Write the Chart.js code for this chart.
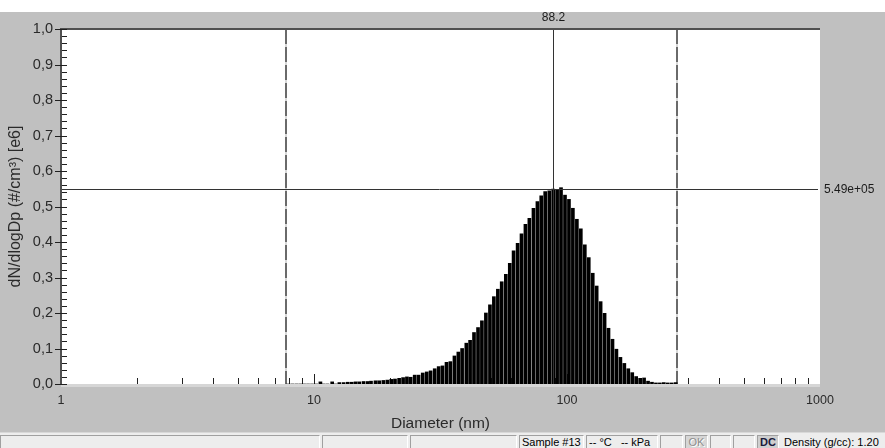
<!DOCTYPE html>
<html>
<head>
<meta charset="utf-8">
<title>Size distribution</title>
<script src="https://cdn.jsdelivr.net/npm/chart.js@4.4.1/dist/chart.umd.min.js"></script>
<style>
  html, body { margin: 0; padding: 0; width: 885px; height: 448px; overflow: hidden; background: #c0c0c0; }
  #plot { position: absolute; left: 0; top: 0; width: 885px; height: 433px; }
  #status { position: absolute; left: 0; top: 432px; width: 885px; height: 16px; background: #ededed; border-top: 1px solid #d8d8d8; box-sizing: border-box; }
  .pane { position: absolute; top: 2px; height: 15px; box-sizing: border-box; border: 1px solid; border-color: #a0a0a0 #ffffff #ffffff #a0a0a0;
          font: 11px "Liberation Sans", Arial, sans-serif; line-height: 12px; padding-left: 2px; white-space: nowrap; color: #000; overflow: hidden; }
  .pane.off { background: #d6d6d6; color: #8c8c8c; text-shadow: 1px 1px 0 #fff; text-align: center; padding-left: 0; }
  .pane.dc { background: #cfcfcf; font-weight: bold; color: #1a1a3a; text-align: center; padding-left: 0; }
  .pane.plain { border-color: transparent; }
</style>
</head>
<body>
<canvas id="plot" width="885" height="433"></canvas>
<div id="status">
  <div class="pane" style="left:0;width:320px"></div>
  <div class="pane" style="left:322px;width:86px"></div>
  <div class="pane" style="left:410px;width:107px"></div>
  <div class="pane" style="left:519px;width:65px">Sample #13</div>
  <div class="pane" style="left:586px;width:72px">-- °C &nbsp; -- kPa</div>
  <div class="pane" style="left:660px;width:23px"></div>
  <div class="pane off" style="left:685px;width:23px">OK</div>
  <div class="pane" style="left:710px;width:21px"></div>
  <div class="pane" style="left:733px;width:22px"></div>
  <div class="pane dc" style="left:757px;width:22px">DC</div>
  <div class="pane plain" style="left:781px;width:104px">Density (g/cc): 1.20</div>
</div>
<script>
// Channel midpoint diameters (nm), 64 channels per decade
const diameters = [
  7.91, 8.20, 8.51, 8.82, 9.14, 9.47, 9.82,
  10.2, 10.6, 10.9, 11.3, 11.8, 12.2, 12.6, 13.1, 13.6, 14.1, 14.6, 15.1, 15.7, 16.3, 16.8, 17.5,
  18.1, 18.8, 19.5, 20.2, 20.9, 21.7, 22.5, 23.3, 24.1, 25.0, 25.9, 26.9, 27.9, 28.9, 30.0, 31.1,
  32.2, 33.4, 34.6, 35.9, 37.2, 38.5, 40.0, 41.4, 42.9, 44.5, 46.1, 47.8, 49.6, 51.4, 53.3, 55.2,
  57.3, 59.4, 61.5, 63.8, 66.1, 68.5, 71.0, 73.7, 76.4, 79.1, 82.0, 85.1, 88.2, 91.4, 94.7, 98.2,
  101.8, 105.5, 109.4, 113.4, 117.6, 121.9, 126.4, 131.0, 135.8, 140.8, 145.9, 151.3, 156.8, 162.6, 168.5, 174.7,
  181.1, 187.7, 194.6, 201.7, 209.1, 216.7, 224.7, 232.9, 241.4, 250.3, 259.5, 269.0
];

// dN/dlogDp in units of 1e6 #/cm³
const concentration = [
  0, 0, 0, 0, 0, 0, 0,
  0, 0.006, 0, 0, 0.006, 0, 0.004, 0.004, 0.005, 0.005, 0.006, 0.006, 0.007, 0.007, 0.008, 0.009,
  0.009, 0.010, 0.011, 0.013, 0.014, 0.016, 0.018, 0.020, 0.019, 0.025, 0.025, 0.031, 0.034, 0.037, 0.043, 0.049,
  0.051, 0.061, 0.063, 0.079, 0.090, 0.100, 0.115, 0.123, 0.145, 0.159, 0.178, 0.200, 0.223, 0.246, 0.267, 0.288,
  0.309, 0.340, 0.375, 0.396, 0.423, 0.450, 0.467, 0.495, 0.514, 0.530, 0.542, 0.544, 0.549, 0.548, 0.553, 0.532,
  0.520, 0.495, 0.464, 0.437, 0.392, 0.356, 0.312, 0.276, 0.232, 0.199, 0.157, 0.126, 0.098, 0.075, 0.058, 0.043,
  0.032, 0.021, 0.016, 0.017, 0.008, 0.005, 0.003, 0.003, 0.004, 0.003, 0.003, 0.004
];

const xTickValues = [1, 10, 100, 1000];
const xTickLabels = ['1', '10', '100', '1000'];
const yTickLabels = ['0,0', '0,1', '0,2', '0,3', '0,4', '0,5', '0,6', '0,7', '0,8', '0,9', '1,0'];

// Scan limits (nm) and cursor position
const scanLimits = [7.77, 272];
const cursorDiameter = 88.2;

const cursorIndex = diameters.indexOf(cursorDiameter);
const cursorValue = concentration[cursorIndex];

function sci(v) {
  const [m, e] = v.toExponential(2).split('e');
  const n = parseInt(e, 10);
  return m + 'e' + (n < 0 ? '-' : '+') + String(Math.abs(n)).padStart(2, '0');
}

const LABEL_FONT = '"Liberation Sans", Arial, sans-serif';

const frame = {
  id: 'frame',
  beforeDraw(chart) {
    const { ctx, chartArea: a } = chart;
    ctx.save();
    ctx.fillStyle = '#c0c0c0';
    ctx.fillRect(0, 0, chart.width, chart.height);
    ctx.fillStyle = '#ffffff';
    ctx.fillRect(0, 0, chart.width, 12);
    ctx.fillRect(a.left, a.top, a.right - a.left, a.bottom - a.top);
    ctx.fillStyle = '#d6d6d6';
    ctx.fillRect(a.left, a.bottom, a.right - a.left, 3);
    ctx.restore();
  },
  beforeDatasetsDraw(chart) {
    const { ctx, chartArea: a, scales: { x } } = chart;
    ctx.save();
    // x-axis tick marks inside the plot, pointing up
    ctx.strokeStyle = '#202020';
    ctx.lineWidth = 1;
    for (let dec = 1; dec < 1000; dec *= 10) {
      for (let m = 1; m <= 9; m++) {
        const v = dec * m;
        if (v === 1) continue;
        const px = Math.round(x.getPixelForValue(v)) + 0.5;
        const len = m === 1 ? 10 : 6;
        ctx.beginPath();
        ctx.moveTo(px, a.bottom);
        ctx.lineTo(px, a.bottom - len);
        ctx.stroke();
      }
    }
    // scan limit markers
    for (const d of scanLimits) {
      const px = Math.round(x.getPixelForValue(d));
      ctx.fillStyle = '#d8d8d8';
      ctx.fillRect(px - 1, a.top, 2, a.bottom - a.top);
      ctx.strokeStyle = '#6a6a6a';
      ctx.lineWidth = 2;
      ctx.setLineDash([15, 3]);
      ctx.beginPath();
      ctx.moveTo(px, a.top);
      ctx.lineTo(px, a.bottom);
      ctx.stroke();
      ctx.setLineDash([]);
    }
    ctx.restore();
  },
  afterDatasetsDraw(chart) {
    const { ctx, chartArea: a, scales: { x, y } } = chart;
    ctx.save();
    // cursor crosshair
    const cx = Math.round(x.getPixelForValue(cursorDiameter)) + 0.5;
    const cy = Math.round(y.getPixelForValue(cursorValue)) + 0.5;
    ctx.strokeStyle = '#333333';
    ctx.lineWidth = 1;
    ctx.beginPath();
    ctx.moveTo(cx, a.top);
    ctx.lineTo(cx, a.bottom);
    ctx.moveTo(a.left, cy);
    ctx.lineTo(a.right - 2, cy);
    ctx.stroke();

    // frame lines
    ctx.fillStyle = '#505050';
    ctx.fillRect(a.left - 1, a.top - 1, a.right - a.left + 1, 2);
    ctx.fillRect(a.left - 1, a.top - 1, 2, a.bottom - a.top + 1);

    // y-axis tick marks
    ctx.strokeStyle = '#202020';
    for (let k = 0; k <= 50; k++) {
      const py = Math.round(y.getPixelForValue(k / 50)) + 0.5;
      const major = k % 5 === 0;
      ctx.beginPath();
      ctx.moveTo(major ? a.left - 6 : a.left + 1, py);
      ctx.lineTo(a.left + 6, py);
      ctx.stroke();
    }

    // cursor readouts
    ctx.fillStyle = '#1a1a1a';
    ctx.font = '12px ' + LABEL_FONT;
    ctx.textBaseline = 'middle';
    ctx.textAlign = 'center';
    ctx.fillText(String(cursorDiameter), cx, 18);
    ctx.textAlign = 'left';
    ctx.fillText(sci(cursorValue * 1e6), a.right + 4, cy);
    ctx.restore();
  }
};

new Chart(document.getElementById('plot'), {
  type: 'bar',
  data: {
    datasets: [{
      data: diameters.map((d, i) => ({ x: d, y: concentration[i] })),
      backgroundColor: '#000000',
      borderWidth: 0,
      barThickness: 3
    }]
  },
  options: {
    responsive: false,
    animation: false,
    events: [],
    devicePixelRatio: 1,
    layout: { padding: { left: 0, top: 29, right: 65, bottom: 0 } },
    plugins: { legend: { display: false }, tooltip: { enabled: false } },
    scales: {
      x: {
        type: 'logarithmic',
        min: 1,
        max: 1000,
        offset: false,
        grid: { display: false, drawTicks: false, offset: false },
        border: { display: false },
        afterBuildTicks(scale) { scale.ticks = xTickValues.map(v => ({ value: v })); },
        afterFit(scale) { scale.height = 49; },
        ticks: {
          autoSkip: false,
          maxRotation: 0,
          padding: 9,
          color: '#2a2a2a',
          font: { family: LABEL_FONT, size: 12.5 },
          callback: (v, i) => xTickLabels[i]
        },
        title: {
          display: true,
          text: 'Diameter (nm)',
          color: '#2a2a2a',
          font: { family: LABEL_FONT, size: 15.5 },
          padding: { top: 0, bottom: 0 }
        }
      },
      y: {
        min: 0,
        max: 1,
        grid: { display: false, drawTicks: false },
        border: { display: false },
        afterFit(scale) { scale.width = 61; },
        ticks: {
          stepSize: 0.1,
          padding: 8,
          color: '#2a2a2a',
          font: { family: LABEL_FONT, size: 14.5 },
          callback: (v, i) => yTickLabels[i]
        },
        title: {
          display: true,
          text: 'dN/dlogDp (#/cm³) [e6]',
          color: '#2a2a2a',
          font: { family: LABEL_FONT, size: 16 },
          padding: { top: 6, bottom: 0 }
        }
      }
    }
  },
  plugins: [frame]
});
</script>
</body>
</html>
